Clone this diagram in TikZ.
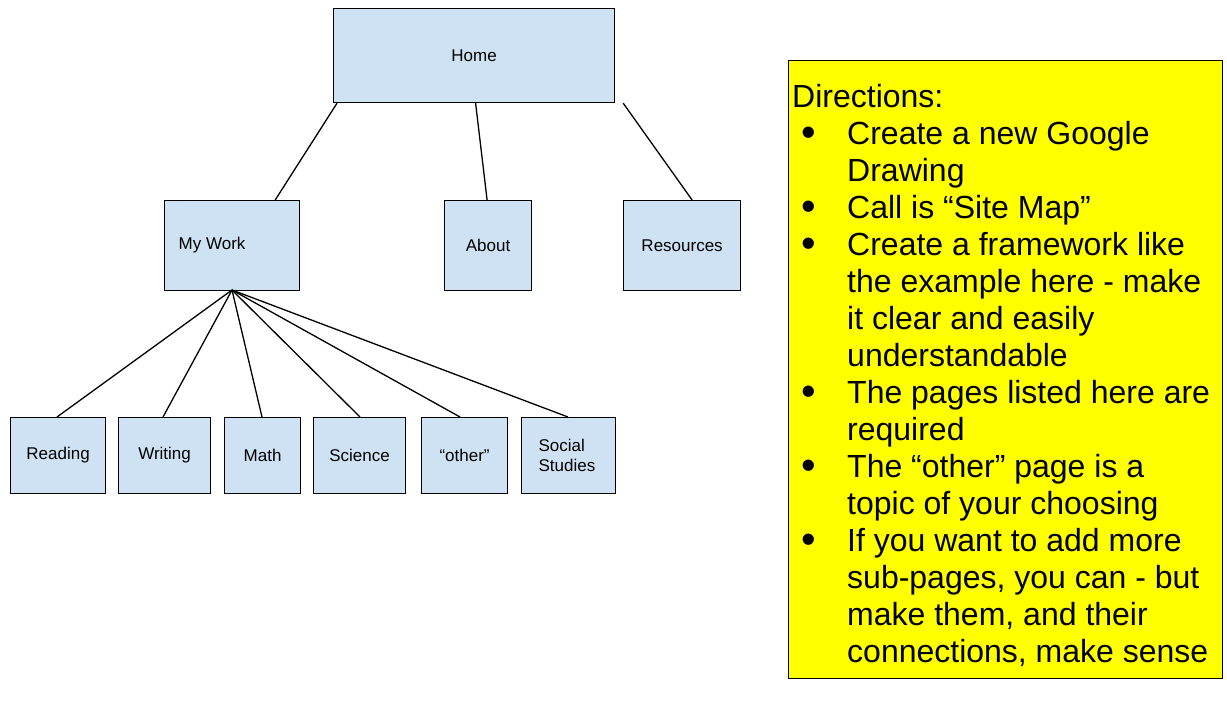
\documentclass[tikz,border=0pt]{standalone}
\usepackage{fontspec}
\setmainfont{Liberation Sans}
\newcommand{\bul}{\makebox[55pt][l]{\hspace*{9pt}\raisebox{-2.5pt}{\scalebox{1.3}{\textbullet}}}}
\newcommand{\ind}{\hspace*{55pt}}
\begin{document}
\begin{tikzpicture}[x=1pt,y=-1pt,
  box/.style={draw=black,fill={rgb,255:red,207;green,226;blue,243},line width=1.2pt,font=\fontsize{17}{20}\selectfont},
  ln/.style={line width=1.3pt}]
\useasboundingbox (0,0) rectangle (1227,719);
\newcommand{\bx}[6]{\node[box,minimum width=#4-#3,minimum height=#6-#5,inner sep=0pt,anchor=north west] (#1) at (#3,#5) {#2};}
\bx{home}{\raisebox{-5pt}{Home}}{333}{614}{8}{102}
\bx{work}{\hspace*{-40pt}My Work}{164}{299}{200}{290}
\bx{about}{About}{444}{531}{200}{290}
\bx{res}{Resources}{623}{740}{200}{290}
\bx{read}{Reading}{10}{105}{417}{493}
\bx{writ}{Writing}{118}{210}{417}{493}
\bx{math}{Math}{224}{300}{417}{493}
\bx{sci}{\raisebox{-4pt}{Science}}{313}{405}{417}{493}
\bx{oth}{“other”}{421}{507}{417}{493}
\bx{soc}{\raisebox{8pt}{\parbox{60pt}{Social\\Studies}}}{521}{615}{417}{493}
\draw[ln] ([xshift=4pt]home.south west) -- ([xshift=-25pt]work.north east);
\draw[ln] ([xshift=1.5pt]home.south) -- ([xshift=-1pt]about.north);
\draw[ln] ([xshift=8pt]home.south east) -- ([xshift=10pt]res.north);
\coordinate (hub) at (232,290);
\foreach \n/\x in {read/57,writ/163,math/262,sci/360,oth/460,soc/568}
  \draw[ln] (hub) -- (\x,417);
\node[draw=black,fill={rgb,255:red,255;green,255;blue,0},line width=1.2pt,minimum width=434pt,minimum height=618pt,anchor=north west] (dir) at (788,60) {};
\node[anchor=north west,inner sep=0pt,align=left,font=\fontsize{32}{37}\selectfont] (txt) at (792,84) {%
Directions:\\
\bul Create a new Google\\
\ind Drawing\\
\bul Call is “Site Map”\\
\bul Create a framework like\\
\ind the example here - make\\
\ind it clear and easily\\
\ind understandable\\
\bul The pages listed here are\\
\ind required\\
\bul The “other” page is a\\
\ind topic of your choosing\\
\bul If you want to add more\\
\ind sub-pages, you can - but\\
\ind make them, and their\\
\ind connections, make sense};
\end{tikzpicture}
\end{document}
